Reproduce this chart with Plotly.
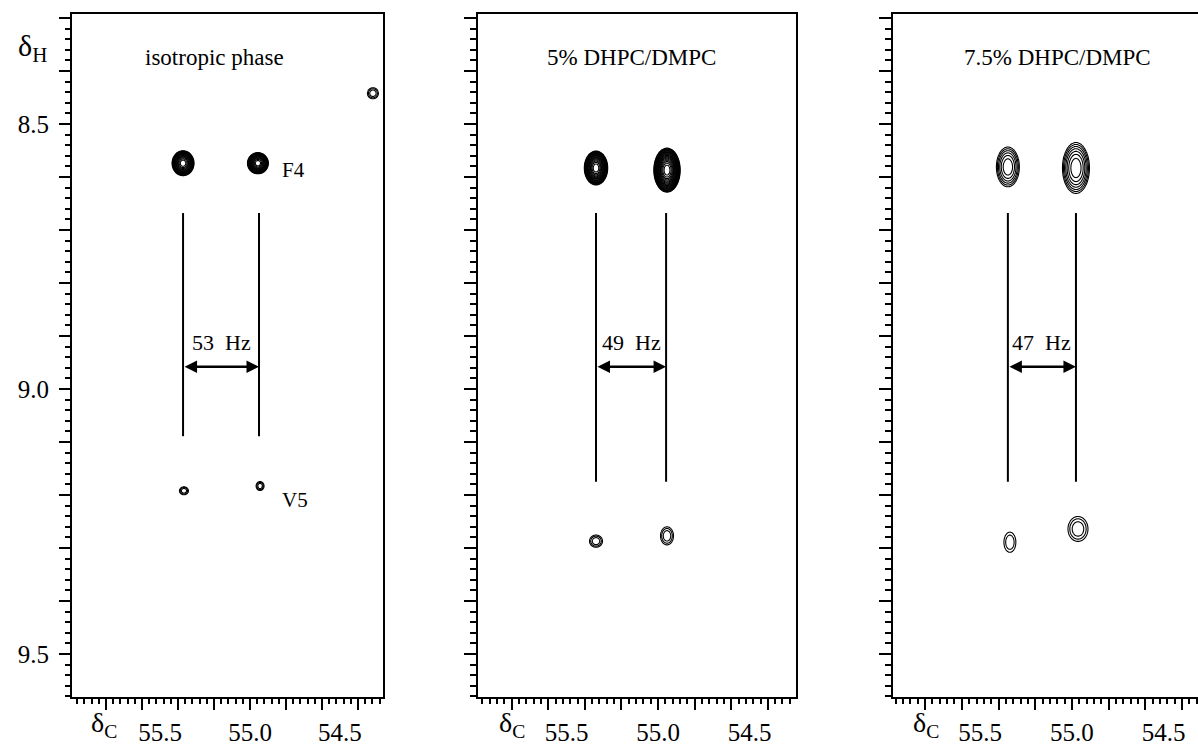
import numpy as np
import plotly.graph_objects as go

# ---------------- data ----------------
panel_titles = ["isotropic phase", "5% DHPC/DMPC", "7.5% DHPC/DMPC"]
coupling_hz = [53, 49, 47]

# cross peaks: 13C shift, 1H shift, outer-contour width (13C ppm, 1H ppm), number of contour levels
peak_c = [[55.372, 54.956, 55.367, 54.944, 54.317],
          [55.339, 54.951, 55.339, 54.951],
          [55.349, 54.978, 55.338, 54.967]]
peak_h = [[8.574, 8.574, 9.192, 9.183, 8.442],
          [8.583, 8.587, 9.287, 9.277],
          [8.581, 8.583, 9.289, 9.264]]
peak_wc = [[0.122, 0.116, 0.050, 0.044, 0.061],
           [0.128, 0.144, 0.071, 0.071],
           [0.125, 0.147, 0.065, 0.109]]
peak_wh = [[0.047, 0.040, 0.015, 0.017, 0.021],
           [0.064, 0.083, 0.023, 0.034],
           [0.075, 0.096, 0.038, 0.047]]
peak_levels = [[16, 16, 3, 3, 3],
               [18, 20, 3, 3],
               [6, 7, 2, 3]]

# splitting markers (vertical bars) and arrow
split_c_left = [55.372, 55.339, 55.349]
split_c_right = [54.950, 54.956, 54.978]
split_h_top = [8.668, 8.668, 8.668]
split_h_bottom = [9.089, 9.175, 9.175]
arrow_h = [8.958, 8.958, 8.958]
hz_label_h = [8.913, 8.913, 8.913]

x_tick_vals = [55.5, 55.0, 54.5]
x_tick_text = ["55.5", "55.0", "54.5"]
y_tick_vals = [8.5, 9.0, 9.5]
y_tick_text = ["8.5", "9.0", "9.5"]

x_ranges = [[55.989, 54.261], [55.984, 54.246], [55.975, 54.313]]
y_range = [9.581, 8.2925]

# ---------------- layout geometry ----------------
W, H = 1198, 747
x_domains = [[72 / W, 383 / W], [478 / W, 796 / W], [893 / W, 1.0]]
y_domain = [50 / H, 733 / H]
FONT = "Liberation Serif, Times New Roman, serif"

fig = go.Figure()
black_scale = [[0, "black"], [1, "black"]]

for i in range(3):
    xa = "x" if i == 0 else f"x{i + 1}"
    ya = "y" if i == 0 else f"y{i + 1}"
    # contour peaks (built from the peak table)
    for c, h, wc, wh, n in zip(peak_c[i], peak_h[i], peak_wc[i], peak_wh[i], peak_levels[i]):
        gx = np.linspace(c - 0.8 * wc, c + 0.8 * wc, 71)
        gy = np.linspace(h - 0.8 * wh, h + 0.8 * wh, 81)
        X, Y = np.meshgrid(gx, gy)
        r2 = ((X - c) / (wc / 2)) ** 2 + ((Y - h) / (wh / 2)) ** 2
        Z = n * (1 - r2)
        fig.add_trace(go.Contour(
            x=gx, y=gy, z=Z, xaxis=xa, yaxis=ya,
            autocontour=False,
            contours=dict(start=0, end=n - 0.5, size=1, coloring="lines"),
            colorscale=black_scale, showscale=False,
            line=dict(width=1.1, smoothing=1.0),
            hoverinfo="skip", showlegend=False,
        ))
    # vertical splitting bars
    fig.add_trace(go.Scatter(
        x=[split_c_left[i], split_c_left[i], None, split_c_right[i], split_c_right[i]],
        y=[split_h_top[i], split_h_bottom[i], None, split_h_top[i], split_h_bottom[i]],
        xaxis=xa, yaxis=ya, mode="lines",
        line=dict(color="black", width=2), hoverinfo="skip", showlegend=False,
    ))
    # double-headed arrow
    fig.add_annotation(
        x=split_c_right[i], y=arrow_h[i], ax=split_c_left[i], ay=arrow_h[i],
        xref=xa, yref=ya, axref=xa, ayref=ya, text="", showarrow=True,
        arrowhead=2, arrowside="end+start", arrowsize=1, arrowwidth=2.5,
        arrowcolor="black", standoff=0, startstandoff=0,
    )
    fig.add_annotation(
        x=(split_c_left[i] + split_c_right[i]) / 2, y=hz_label_h[i],
        xref=xa, yref=ya, text=f"{coupling_hz[i]}\u00a0 Hz", showarrow=False,
        xanchor="center", yanchor="middle",
        font=dict(family=FONT, size=22, color="black"),
    )

# panel titles
title_px = [(214, 57), (631, 57), (1057, 57)]
for t, (px, py) in zip(panel_titles, title_px):
    fig.add_annotation(x=px / W, y=1 - py / H, xref="paper", yref="paper",
                       text=t, showarrow=False, xanchor="center", yanchor="middle",
                       font=dict(family=FONT, size=23, color="black"))

# residue labels (panel 1)
fig.add_annotation(x=54.761, y=8.587, xref="x", yref="y", text="F4", showarrow=False,
                   xanchor="center", yanchor="middle",
                   font=dict(family=FONT, size=21, color="black"))
fig.add_annotation(x=54.75, y=9.209, xref="x", yref="y", text="V5", showarrow=False,
                   xanchor="center", yanchor="middle",
                   font=dict(family=FONT, size=21, color="black"))

# axis symbols
fig.add_annotation(x=32 / W, y=1 - 48 / H, xref="paper", yref="paper",
                   text="δ<sub>H</sub>", showarrow=False, xanchor="center", yanchor="middle",
                   font=dict(family=FONT, size=30, color="black"))
for px in [104, 512, 926]:
    fig.add_annotation(x=px / W, y=1 - 724 / H, xref="paper", yref="paper",
                       text="δ<sub>C</sub>", showarrow=False, xanchor="center", yanchor="middle",
                       font=dict(family=FONT, size=28, color="black"))

# empty traces so overlay tick axes are created
fig.add_trace(go.Scatter(x=[], y=[], xaxis="x4", yaxis="y", showlegend=False))
fig.add_trace(go.Scatter(x=[], y=[], xaxis="x5", yaxis="y2", showlegend=False))
fig.add_trace(go.Scatter(x=[], y=[], xaxis="x6", yaxis="y3", showlegend=False))
fig.add_trace(go.Scatter(x=[], y=[], xaxis="x", yaxis="y4", showlegend=False))

layout = dict(
    width=W, height=H, margin=dict(l=0, r=0, t=0, b=0, autoexpand=False),
    paper_bgcolor="white", plot_bgcolor="white", showlegend=False,
    font=dict(family=FONT, color="black"),
)

tick_minor_x = dict(ticks="outside", ticklen=6, tickwidth=1.5, tickcolor="black",
                    dtick=0.04, tick0=55.0, showgrid=False)
tick_minor_y = dict(ticks="outside", ticklen=6, tickwidth=1.5, tickcolor="black",
                    dtick=0.02, tick0=8.5, showgrid=False)

for i in range(3):
    xa = "x" if i == 0 else f"x{i + 1}"
    ya = "y" if i == 0 else f"y{i + 1}"
    layout[f"xaxis{i + 1}"] = dict(
        domain=x_domains[i], range=x_ranges[i], anchor=ya,
        showline=True, linewidth=2, linecolor="black", mirror=True,
        ticks="outside", ticklen=12, tickcolor="rgba(0,0,0,0)",
        tickmode="array", tickvals=x_tick_vals, ticktext=x_tick_text,
        tickfont=dict(family=FONT, size=25, color="black"),
        showgrid=False, zeroline=False,
    )
    layout[f"xaxis{i + 4}"] = dict(
        overlaying=xa, anchor=ya, range=x_ranges[i], side="bottom",
        tickmode="linear", tick0=55.0, dtick=0.2,
        ticks="outside", ticklen=12, tickwidth=2, tickcolor="black",
        minor=tick_minor_x, showticklabels=False,
        showgrid=False, zeroline=False, showline=False,
    )

layout["yaxis"] = dict(
    domain=y_domain, range=y_range, anchor="x",
    showline=True, linewidth=2, linecolor="black", mirror=True,
    ticks="outside", ticklen=16, tickcolor="rgba(0,0,0,0)",
    tickmode="array", tickvals=y_tick_vals, ticktext=y_tick_text,
    tickfont=dict(family=FONT, size=25, color="black"),
    showgrid=False, zeroline=False,
)
layout["yaxis4"] = dict(
    overlaying="y", anchor="x", side="left", range=y_range,
    tickmode="linear", tick0=8.5, dtick=0.1,
    ticks="outside", ticklen=12, tickwidth=2, tickcolor="black",
    minor=tick_minor_y, showticklabels=False,
    showgrid=False, zeroline=False, showline=False,
)
for i in [1, 2]:
    layout[f"yaxis{i + 1}"] = dict(
        domain=y_domain, range=y_range, anchor=f"x{i + 1}",
        showline=True, linewidth=2, linecolor="black", mirror=(i == 1),
        tickmode="linear", tick0=8.5, dtick=0.1,
        ticks="outside", ticklen=12, tickwidth=2, tickcolor="black",
        minor=tick_minor_y, showticklabels=False,
        showgrid=False, zeroline=False,
    )

fig.update_layout(**layout)
fig.write_html("out.html")
